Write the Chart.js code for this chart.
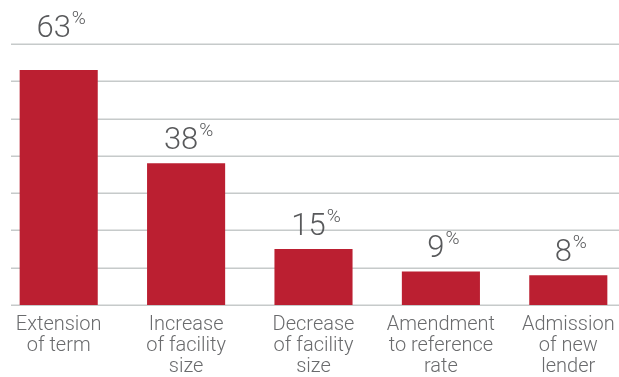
<!DOCTYPE html>
<html>
<head>
<meta charset="utf-8">
<script src="https://cdn.jsdelivr.net/npm/chart.js@4"></script>
<style>
  html, body { margin: 0; padding: 0; background: #fff; overflow: hidden; }
  #wrap { position: absolute; left: -5px; top: 0; width: 637px; height: 377px; }
</style>
</head>
<body>
<div id="wrap"><canvas id="amend-canvas"></canvas></div>
<script>
var categories = [
  ['Extension', 'of term'],
  ['Increase', 'of facility', 'size'],
  ['Decrease', 'of facility', 'size'],
  ['Amendment', 'to reference', 'rate'],
  ['Admission', 'of new', 'lender']
]
var shares = [63, 38, 15, 9, 8]
var gridSteps = [0, 10, 20, 30, 40, 50, 60, 70]

// horizontal rules, starting a little in from the left edge
var gridPlugin = {
  id: 'rules',
  beforeDatasetsDraw: function (chart) {
    var ctx = chart.ctx
    var y = chart.scales.y
    ctx.save()
    ctx.strokeStyle = '#c6caca'
    ctx.lineWidth = 1.5
    gridSteps.forEach(function (v) {
      var py = Math.round(y.getPixelForValue(v)) + 0.25
      ctx.beginPath()
      ctx.moveTo(16, py)
      ctx.lineTo(chart.width, py)
      ctx.stroke()
    })
    ctx.restore()
  }
}

// value above each bar, with a small raised percent sign
var valuePlugin = {
  id: 'values',
  afterDatasetsDraw: function (chart) {
    var ctx = chart.ctx
    var meta = chart.getDatasetMeta(0)
    var top = chart.chartArea.top
    ctx.save()
    ctx.fillStyle = '#58595b'
    ctx.textBaseline = 'alphabetic'
    ctx.textAlign = 'left'
    meta.data.forEach(function (bar, i) {
      var num = String(shares[i])
      ctx.font = '300 31px Roboto'
      var w1 = ctx.measureText(num).width
      ctx.font = '300 19px Roboto'
      var w2 = ctx.measureText('%').width
      var x0 = bar.x - (w1 + w2) / 2 + 2
      var base = bar.y - 14
      // keep the figure clear of the top rule
      if (base - 23 < top + 2 && base > top - 4) base = top - 7
      ctx.font = '300 31px Roboto'
      ctx.fillText(num, x0, base)
      ctx.font = '300 19px Roboto'
      ctx.fillText('%', x0 + w1 + 1, base - 13)
    })
    ctx.restore()
  }
}

var ctx = document.getElementById('amend-canvas').getContext('2d')
var chart = new Chart(ctx, {
  type: 'bar',
  data: {
    labels: categories,
    datasets: [{
      data: shares,
      backgroundColor: '#bb1f31',
      borderWidth: 0,
      categoryPercentage: 1,
      barPercentage: 0.613
    }]
  },
  options: {
    responsive: true,
    maintainAspectRatio: false,
    animation: false,
    events: [],
    layout: { padding: { top: 44, bottom: -9, left: 0, right: 0 } },
    plugins: {
      legend: { display: false },
      tooltip: { enabled: false }
    },
    scales: {
      x: {
        grid: { display: false, drawTicks: false },
        border: { display: false },
        ticks: {
          color: '#6a6b6d',
          padding: 9,
          maxRotation: 0,
          autoSkip: false,
          font: { family: 'Roboto', weight: 300, size: 20, lineHeight: 1.05 }
        }
      },
      y: {
        display: false,
        min: 0,
        max: 70,
        ticks: { stepSize: 10 }
      }
    }
  },
  plugins: [gridPlugin, valuePlugin]
})
</script>
</body>
</html>
